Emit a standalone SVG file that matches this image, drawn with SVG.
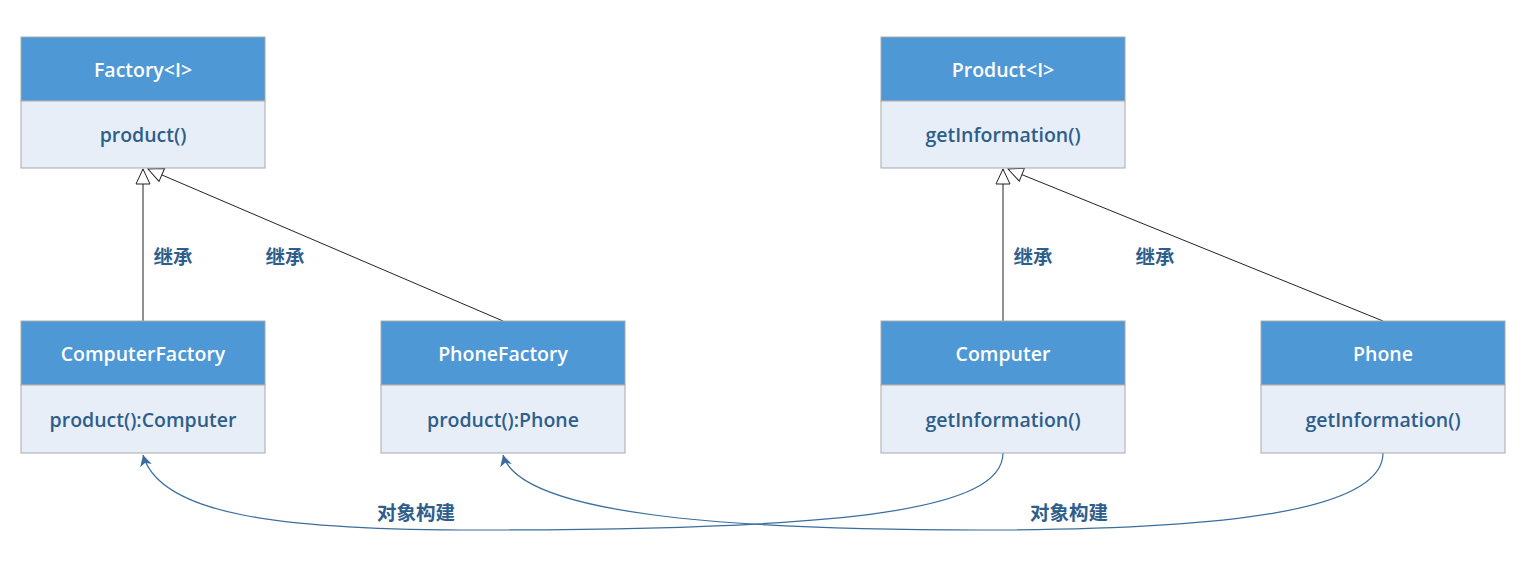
<svg xmlns="http://www.w3.org/2000/svg" width="1536" height="564" viewBox="0 0 1536 564">
<style>
.hd{fill:#4e98d6;stroke:#a9a9a9;stroke-width:1}
.bd{fill:#e8eef7;stroke:#a9a9a9;stroke-width:1}
.ht{fill:#ffffff;font-family:"Open Sans","Noto Sans",sans-serif;font-size:19.5px;font-weight:600;text-anchor:middle;dominant-baseline:central}
.bt{fill:#2e5e8c;font-family:"Open Sans","Noto Sans",sans-serif;font-size:19.5px;font-weight:600;text-anchor:middle;dominant-baseline:central}
.lb{fill:#2e5e8c;font-family:"Noto Sans CJK SC",sans-serif;font-size:19.5px;font-weight:700;text-anchor:middle;dominant-baseline:central}
.inh{fill:none;stroke:#222;stroke-width:1}
.dep{fill:none;stroke:#3a6d9e;stroke-width:1.2}
</style>
<defs>
<marker id="tri" markerWidth="17" markerHeight="16" refX="16" refY="8" orient="auto" markerUnits="userSpaceOnUse">
<path d="M1,1 L16,8 L1,15 Z" fill="#fff" stroke="#222" stroke-width="1"/>
</marker>
<marker id="arr" markerWidth="12" markerHeight="12" refX="11" refY="6" orient="auto" markerUnits="userSpaceOnUse">
<path d="M0,0 L11,6 L0,12 L3,6 Z" fill="#3a6d9e"/>
</marker>
</defs>
<g id="connectors">
<path class="inh" d="M143,321 L143,169" marker-end="url(#tri)"/>
<path class="inh" d="M503,321 L148,169" marker-end="url(#tri)"/>
<path class="inh" d="M1003,321 L1003,169" marker-end="url(#tri)"/>
<path class="inh" d="M1383,321 L1008,169" marker-end="url(#tri)"/>
<path class="dep" d="M1003,453 C1003,510 850,530 480,530 C280,530 160,515 143,455" marker-end="url(#arr)"/>
<path class="dep" d="M1383,453 C1383,510 1230,530 980,530 C730,530 520,515 503,455" marker-end="url(#arr)"/>
<text class="lb" x="173" y="255">继承</text>
<text class="lb" x="285" y="255">继承</text>
<text class="lb" x="1033" y="255">继承</text>
<text class="lb" x="1155" y="255">继承</text>
<text class="lb" x="416" y="511">对象构建</text>
<text class="lb" x="1069" y="511">对象构建</text>
</g>
<g id="Factory">
<rect class="hd" x="21" y="37" width="244" height="64"/>
<rect class="bd" x="21" y="101" width="244" height="67"/>
<text class="ht" x="143" y="69">Factory&lt;I&gt;</text>
<text class="bt" x="143" y="134">product()</text>
</g>
<g id="Product">
<rect class="hd" x="881" y="37" width="244" height="64"/>
<rect class="bd" x="881" y="101" width="244" height="67"/>
<text class="ht" x="1003" y="69">Product&lt;I&gt;</text>
<text class="bt" x="1003" y="134">getInformation()</text>
</g>
<g id="ComputerFactory">
<rect class="hd" x="21" y="321" width="244" height="64"/>
<rect class="bd" x="21" y="385" width="244" height="68"/>
<text class="ht" x="143" y="353">ComputerFactory</text>
<text class="bt" x="143" y="419">product():Computer</text>
</g>
<g id="PhoneFactory">
<rect class="hd" x="381" y="321" width="244" height="64"/>
<rect class="bd" x="381" y="385" width="244" height="68"/>
<text class="ht" x="503" y="353">PhoneFactory</text>
<text class="bt" x="503" y="419">product():Phone</text>
</g>
<g id="Computer">
<rect class="hd" x="881" y="321" width="244" height="64"/>
<rect class="bd" x="881" y="385" width="244" height="68"/>
<text class="ht" x="1003" y="353">Computer</text>
<text class="bt" x="1003" y="419">getInformation()</text>
</g>
<g id="Phone">
<rect class="hd" x="1261" y="321" width="244" height="64"/>
<rect class="bd" x="1261" y="385" width="244" height="68"/>
<text class="ht" x="1383" y="353">Phone</text>
<text class="bt" x="1383" y="419">getInformation()</text>
</g>
</svg>
